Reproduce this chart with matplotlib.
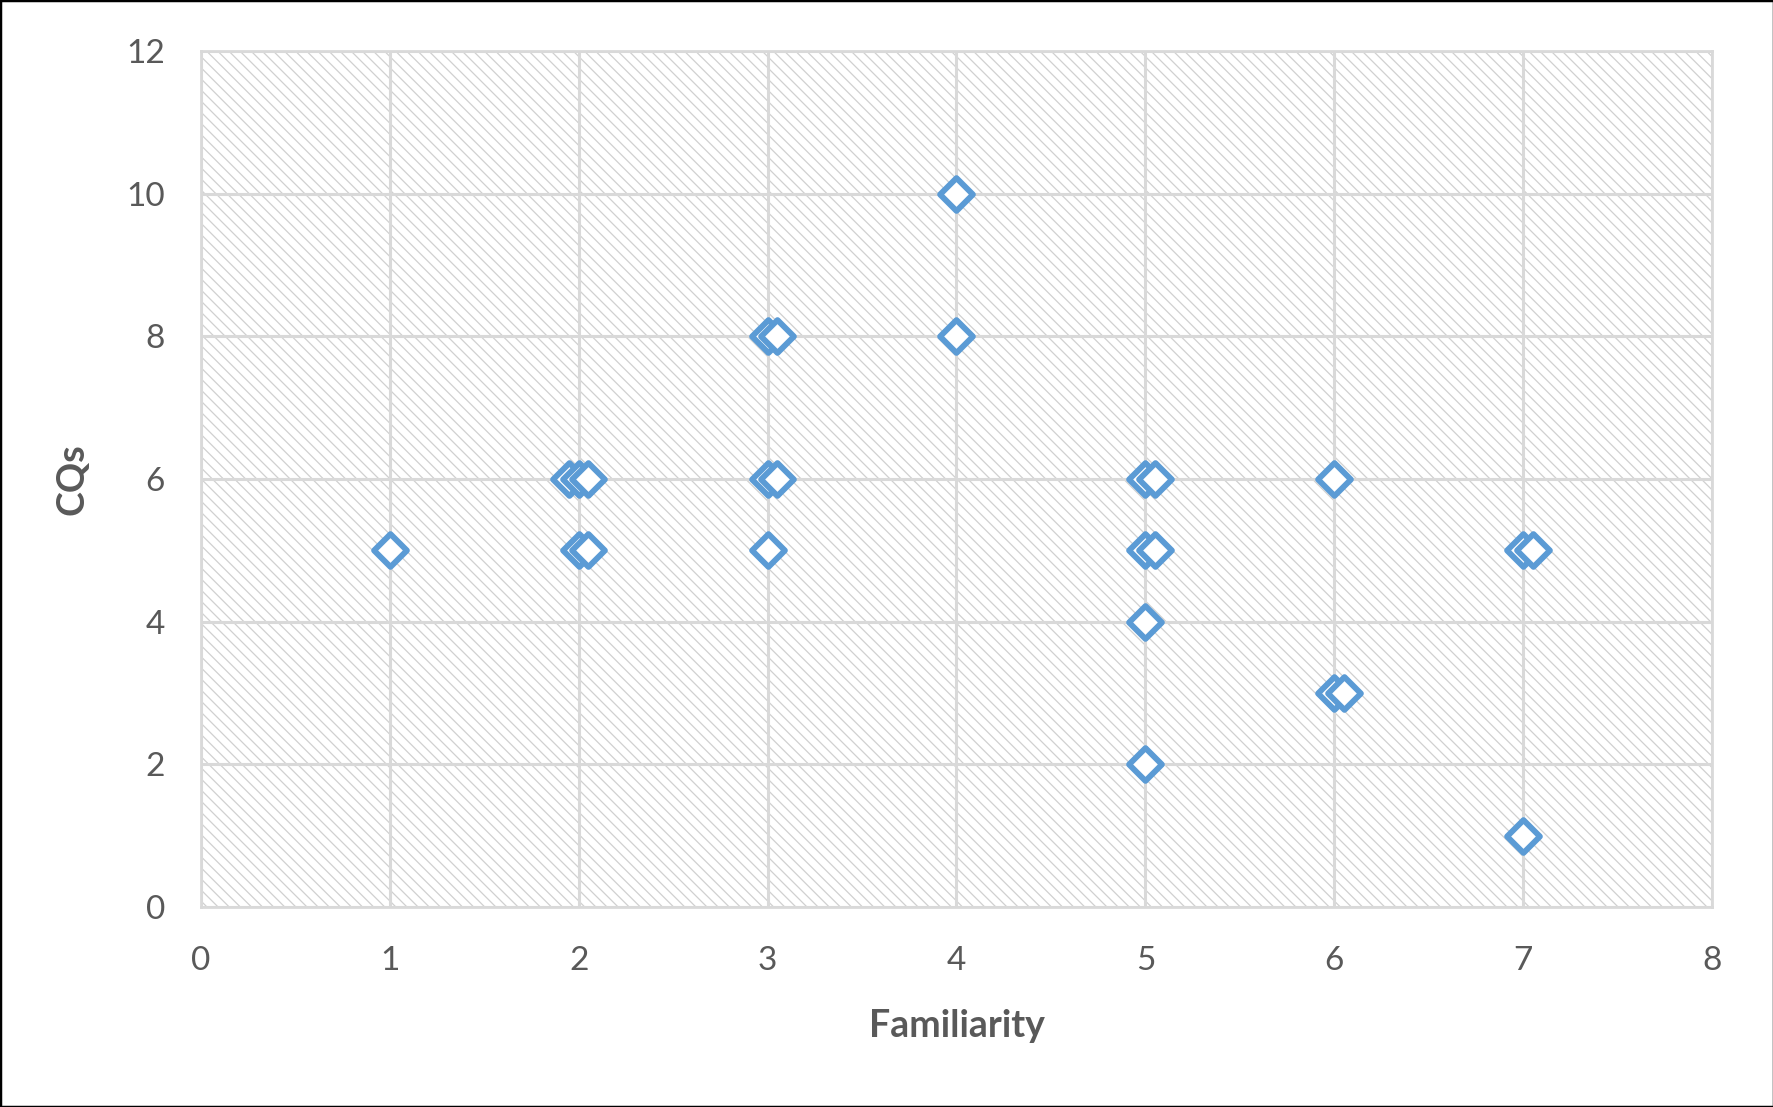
import matplotlib
matplotlib.use("Agg")
import matplotlib.pyplot as plt
from matplotlib.patches import Rectangle

familiarity = [1, 1.95, 2.0, 2.05, 2.0, 2.05, 3.0, 3.05, 3.0, 3.05, 3.0,
               4, 4, 5.0, 5.05, 5.0, 5.05, 5, 5, 6, 6.0, 6.05, 7.0, 7.05, 7]
cqs = [5, 6, 6, 6, 5, 5, 8, 8, 6, 6, 5,
       10, 8, 6, 6, 5, 5, 4, 2, 6, 3, 3, 5, 5, 1]
xticks = [0, 1, 2, 3, 4, 5, 6, 7, 8]
yticks = [0, 2, 4, 6, 8, 10, 12]

plt.rcParams['font.family'] = ['Lato', 'DejaVu Sans']
plt.rcParams['hatch.color'] = '#d0d0d0'
plt.rcParams['hatch.linewidth'] = 0.9

fig = plt.figure(figsize=(17.74, 11.07), dpi=100)
ax = fig.add_axes([201/1774, 1 - 907/1107, (1712-201)/1774, (907-51)/1107])

ax.add_patch(Rectangle((0, 0), 1, 1, transform=ax.transAxes, facecolor='white',
                       edgecolor='#d0d0d0', linewidth=0,
                       hatch='\\\\\\', zorder=0))

ax.set_xlim(0, 8)
ax.set_ylim(0, 12)
ax.set_xticks(xticks)
ax.set_yticks(yticks)
ax.grid(True, color='#d9d9d9', linewidth=2.2, zorder=1)
ax.set_axisbelow(False)
for s in ax.spines.values():
    s.set_color('#d9d9d9')
    s.set_linewidth(2)
ax.tick_params(length=0, labelsize=24, labelcolor='#595959')
ax.tick_params(axis='y', pad=26)
ax.tick_params(axis='x', pad=28)

ax.scatter(familiarity, cqs, marker='D', s=280, facecolors='white',
           edgecolors='#5b9bd5', linewidths=4.2, zorder=3)

ax.set_xlabel('Familiarity', fontsize=27, fontweight='bold', color='#595959', labelpad=24)
ax.set_ylabel('CQs', fontsize=27, fontweight='bold', color='#595959', labelpad=26)

fig.patches.append(Rectangle((0, 0), 1, 1, transform=fig.transFigure, fill=False,
                             edgecolor='black', linewidth=2.5))

fig.savefig('out.png', dpi=100)
